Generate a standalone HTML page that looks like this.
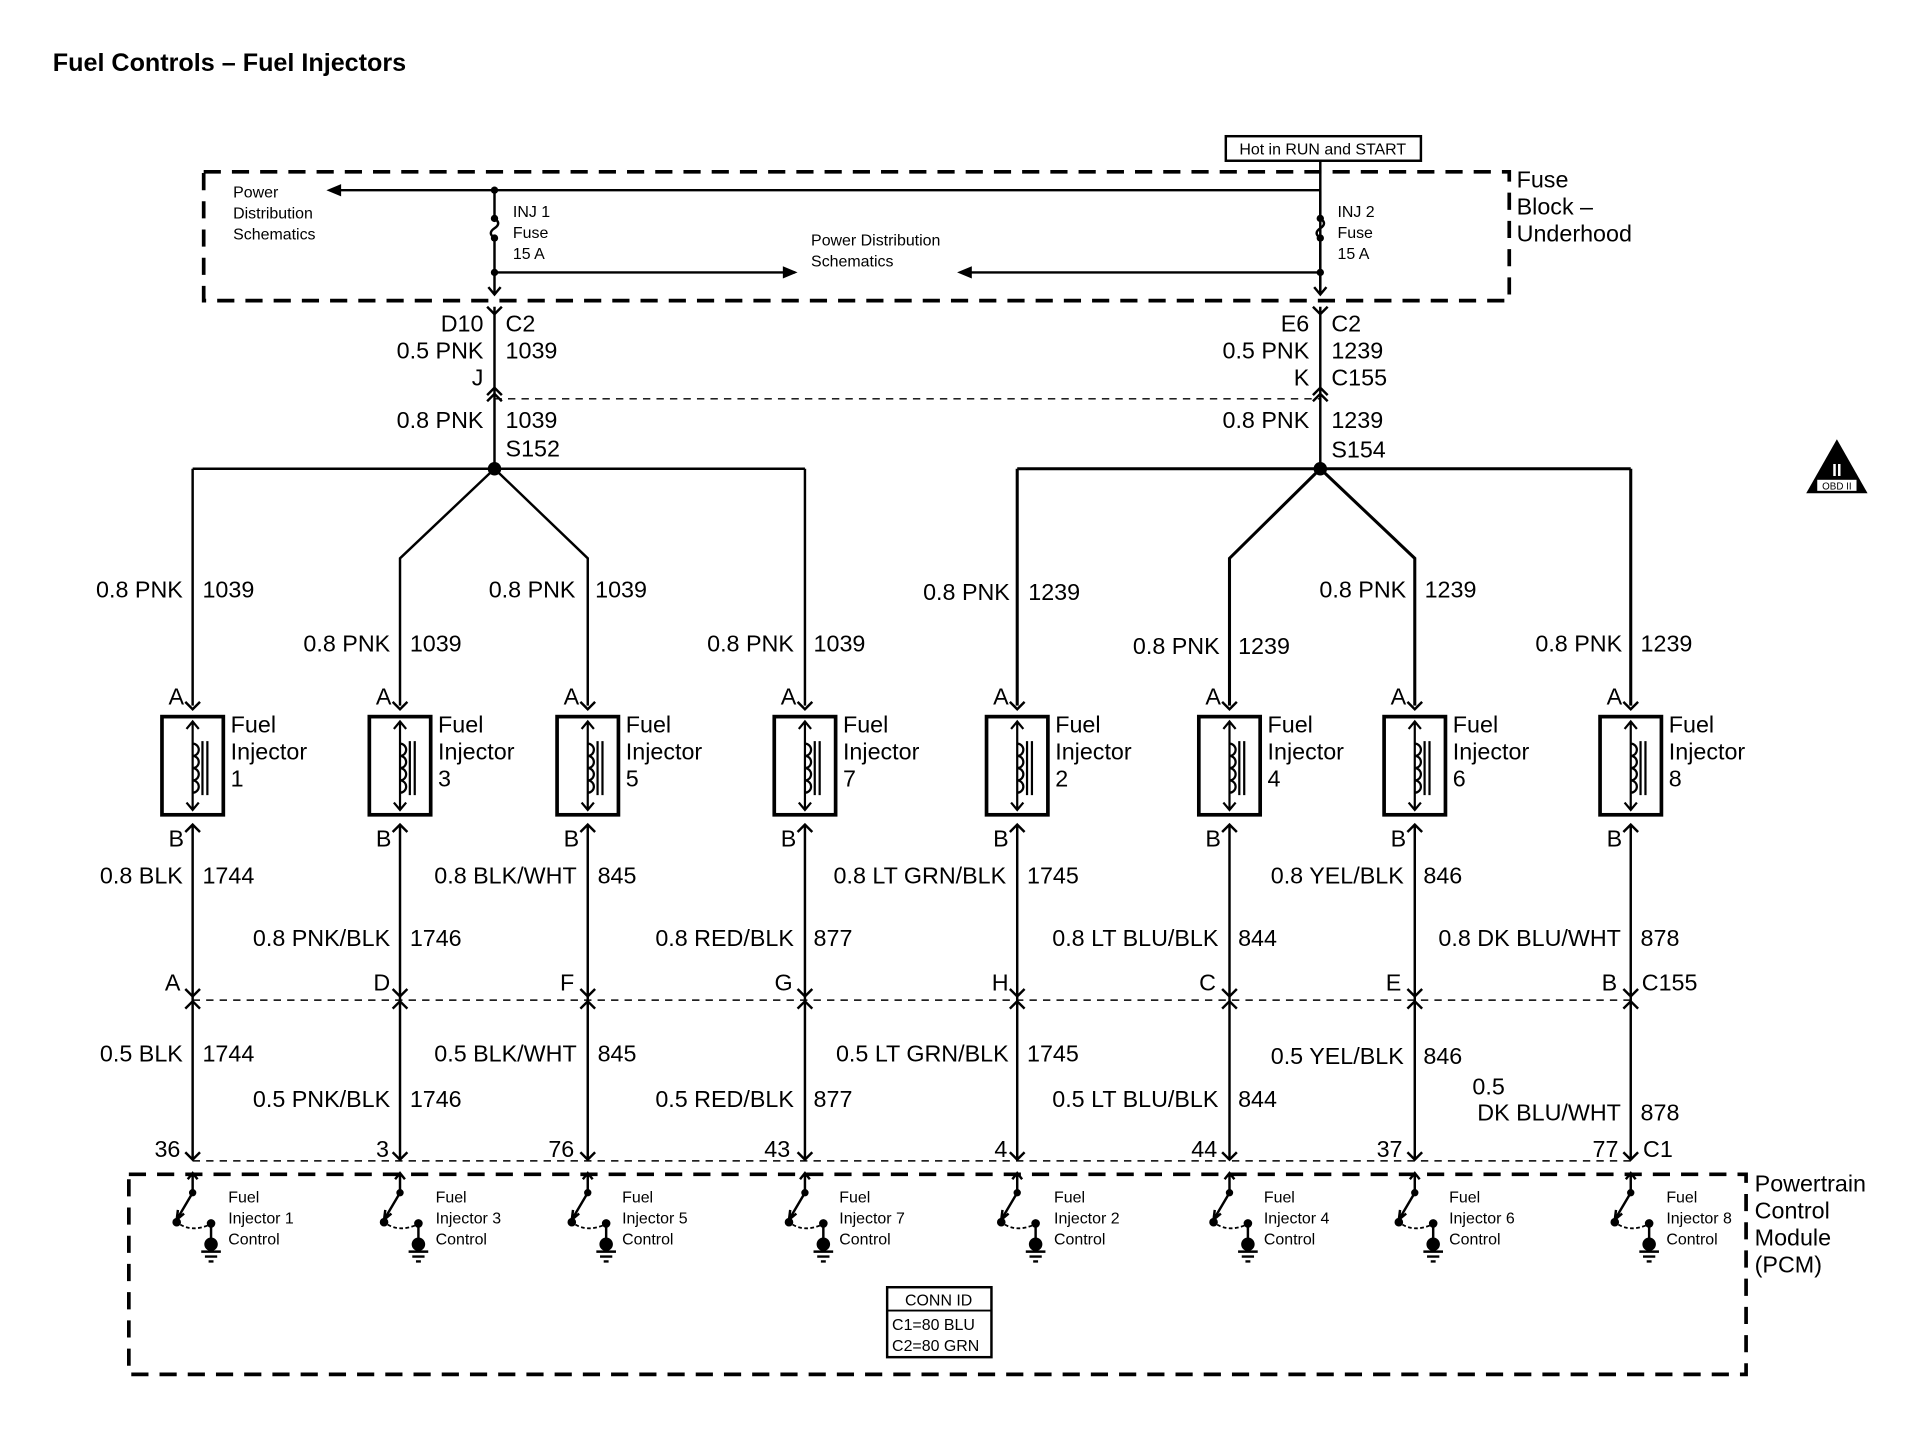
<!DOCTYPE html>
<html><head><meta charset="utf-8"><style>
html,body{margin:0;padding:0;background:#fff}
svg{display:block}
text{font-family:"Liberation Sans",sans-serif;fill:#000}
.w{font-size:19px}
.s{font-size:13px}
.r{text-anchor:end}
</style></head><body>
<svg width="1924" height="1440" viewBox="0 0 1568 1173.5" preserveAspectRatio="none" xmlns="http://www.w3.org/2000/svg">
<defs>
<g id="inj" fill="none" stroke="#000">
<rect x="-25" y="0" width="50" height="80" stroke-width="3"/>
<path d="M0 4 V76 M-5 10 L0 4 L5 10 M-5 70 L0 76 L5 70" stroke-width="1.8"/>
<path d="M0 22 a5 5 0 0 1 0 10 a5 5 0 0 1 0 10 a5 5 0 0 1 0 10 a5 5 0 0 1 0 10" stroke-width="1.8"/>
<path d="M8 20 V64 M12 20 V64" stroke-width="1.8"/>
</g>
<g id="sw" stroke="#000" fill="none">
<path d="M0 -2 V14 M-4 3 L0 -2 L4 3" stroke-width="2"/>
<circle cx="0" cy="14" r="2.5" fill="#000"/>
<path d="M0 14 L-13 36 M-12 28 L-13 36 L-7 31" stroke-width="2"/>
<circle cx="-13" cy="38" r="3" fill="#000"/>
<path d="M-10 40 Q0 46 14 40" stroke-width="1.5" stroke-dasharray="3 2"/>
<circle cx="15" cy="39" r="3" fill="#000"/>
<path d="M15 39 V56" stroke-width="2"/>
<circle cx="15" cy="56" r="5" fill="#000"/>
<path d="M7 62 H23 M10 66 H20 M13 70 H17" stroke-width="2"/>
</g>
<g id="ca" fill="none" stroke="#000" stroke-width="2"><path d="M-6 6 L0 0 L6 6"/></g>
<g id="cb" fill="none" stroke="#000" stroke-width="2"><path d="M-6 -6 L0 0 L6 -6"/></g>
</defs>

<text x="43" y="58" style="font-size:20.5px;font-weight:bold">Fuel Controls – Fuel Injectors</text>

<rect x="166" y="140" width="1064" height="105" fill="none" stroke="#000" stroke-width="3" stroke-dasharray="14 9"/>
<rect x="999" y="111" width="159" height="20" fill="none" stroke="#000" stroke-width="2"/>
<text x="1078" y="126" class="s" text-anchor="middle">Hot in RUN and START</text>
<text x="1236" y="153" class="w">Fuse</text>
<text x="1236" y="175" class="w">Block –</text>
<text x="1236" y="197" class="w">Underhood</text>
<g stroke="#000" stroke-width="2" fill="none">
<path d="M275 155 H1076 M1076 131 V240 M403 155 V178 M403 194 V240"/>
<path d="M1076 155 V178 M1076 194 V240" />
<path d="M403 178 q6 4 0 8 q-6 4 0 8 M1076 178 q6 4 0 8 q-6 4 0 8"/>
<path d="M403 222 H648 M1076 222 H784"/>
<path d="M398 234 L403 240 L408 234 M1071 234 L1076 240 L1081 234"/>
<path d="M403 250 V382 M1076 250 V382"/>
<path d="M403 325 H1076" stroke-dasharray="6 5" stroke-width="1.2"/>
<path d="M157 382 H656 M157 382 V575 M656 382 V575 M403 382 L326 455 V575 M403 382 L479 455 V575"/>
<path d="M829 382 H1329 M829 382 V575 M1329 382 V575 M1076 382 L1002 455 V575 M1076 382 L1153 455 V575" stroke-width="2.5"/>
</g>
<path d="M266 155 L278 150 L278 160 Z M650 222 L638 217 L638 227 Z M780 222 L792 217 L792 227 Z" fill="#000"/>
<g fill="#000"><circle cx="403" cy="155" r="3"/><circle cx="403" cy="178" r="3"/><circle cx="403" cy="194" r="3"/><circle cx="403" cy="222" r="3"/>
<circle cx="1076" cy="178" r="3"/><circle cx="1076" cy="194" r="3"/><circle cx="1076" cy="222" r="3"/>
<circle cx="403" cy="382" r="5.5"/><circle cx="1076" cy="382" r="5.5"/></g>
<use href="#cb" x="403" y="256"/><use href="#cb" x="1076" y="256"/>
<use href="#ca" x="403" y="316"/><use href="#ca" x="403" y="321"/>
<use href="#ca" x="1076" y="316"/><use href="#ca" x="1076" y="321"/>
<text x="190" y="161" class="s">Power</text><text x="190" y="178" class="s">Distribution</text><text x="190" y="195" class="s">Schematics</text>
<text x="418" y="177" class="s">INJ 1</text><text x="418" y="194" class="s">Fuse</text><text x="418" y="211" class="s">15 A</text>
<text x="1090" y="177" class="s">INJ 2</text><text x="1090" y="194" class="s">Fuse</text><text x="1090" y="211" class="s">15 A</text>
<text x="661" y="200" class="s">Power Distribution</text><text x="661" y="217" class="s">Schematics</text>

<g class="w">
<text x="394" y="270" class="w r">D10</text><text x="412" y="270" class="w">C2</text>
<text x="394" y="292" class="w r">0.5 PNK</text><text x="412" y="292" class="w">1039</text>
<text x="394" y="314" class="w r">J</text>
<text x="394" y="349" class="w r">0.8 PNK</text><text x="412" y="349" class="w">1039</text>
<text x="412" y="372" class="w">S152</text>
<text x="1067" y="270" class="w r">E6</text><text x="1085" y="270" class="w">C2</text>
<text x="1067" y="292" class="w r">0.5 PNK</text><text x="1085" y="292" class="w">1239</text>
<text x="1067" y="314" class="w r">K</text><text x="1085" y="314" class="w">C155</text>
<text x="1067" y="349" class="w r">0.8 PNK</text><text x="1085" y="349" class="w">1239</text>
<text x="1085" y="373" class="w">S154</text>
</g>

<path d="M1497 358 L1522 402 L1472 402 Z" fill="#000"/>
<rect x="1481" y="391" width="32" height="9" fill="#fff"/>
<text x="1497" y="399" style="font-size:8px" text-anchor="middle">OBD II</text>
<text x="1497" y="388" style="font-size:14px;font-weight:bold;fill:#fff" text-anchor="middle">II</text>

<g stroke="#000" stroke-width="2" fill="none">
<path d="M157 672 V945 M326 672 V945 M479 672 V945 M656 672 V945 M829 672 V945 M1002 672 V945 M1153 672 V945 M1329 672 V945"/>
<path d="M157 815 H1329 M157 946 H1329" stroke-dasharray="6 5" stroke-width="1.2"/>
</g>
<rect x="105" y="957" width="1318" height="163" fill="none" stroke="#000" stroke-width="3" stroke-dasharray="14 9"/>

<g>
<use href="#inj" x="157" y="584"/><use href="#inj" x="326" y="584"/><use href="#inj" x="479" y="584"/><use href="#inj" x="656" y="584"/>
<use href="#inj" x="829" y="584"/><use href="#inj" x="1002" y="584"/><use href="#inj" x="1153" y="584"/><use href="#inj" x="1329" y="584"/>
<use href="#cb" x="157" y="578"/><use href="#cb" x="326" y="578"/><use href="#cb" x="479" y="578"/><use href="#cb" x="656" y="578"/><use href="#cb" x="829" y="578"/><use href="#cb" x="1002" y="578"/><use href="#cb" x="1153" y="578"/><use href="#cb" x="1329" y="578"/>
<use href="#ca" x="157" y="672"/><use href="#ca" x="326" y="672"/><use href="#ca" x="479" y="672"/><use href="#ca" x="656" y="672"/><use href="#ca" x="829" y="672"/><use href="#ca" x="1002" y="672"/><use href="#ca" x="1153" y="672"/><use href="#ca" x="1329" y="672"/>
<use href="#cb" x="157" y="812"/><use href="#cb" x="326" y="812"/><use href="#cb" x="479" y="812"/><use href="#cb" x="656" y="812"/><use href="#cb" x="829" y="812"/><use href="#cb" x="1002" y="812"/><use href="#cb" x="1153" y="812"/><use href="#cb" x="1329" y="812"/>
<use href="#ca" x="157" y="816"/><use href="#ca" x="326" y="816"/><use href="#ca" x="479" y="816"/><use href="#ca" x="656" y="816"/><use href="#ca" x="829" y="816"/><use href="#ca" x="1002" y="816"/><use href="#ca" x="1153" y="816"/><use href="#ca" x="1329" y="816"/>
<use href="#cb" x="157" y="945"/><use href="#cb" x="326" y="945"/><use href="#cb" x="479" y="945"/><use href="#cb" x="656" y="945"/><use href="#cb" x="829" y="945"/><use href="#cb" x="1002" y="945"/><use href="#cb" x="1153" y="945"/><use href="#cb" x="1329" y="945"/>
<use href="#sw" x="157" y="958"/><use href="#sw" x="326" y="958"/><use href="#sw" x="479" y="958"/><use href="#sw" x="656" y="958"/><use href="#sw" x="829" y="958"/><use href="#sw" x="1002" y="958"/><use href="#sw" x="1153" y="958"/><use href="#sw" x="1329" y="958"/>
</g>

<g class="w">
<text x="188" y="597" class="w">Fuel</text><text x="188" y="619" class="w">Injector</text><text x="188" y="641" class="w">1</text>
<text x="357" y="597" class="w">Fuel</text><text x="357" y="619" class="w">Injector</text><text x="357" y="641" class="w">3</text>
<text x="510" y="597" class="w">Fuel</text><text x="510" y="619" class="w">Injector</text><text x="510" y="641" class="w">5</text>
<text x="687" y="597" class="w">Fuel</text><text x="687" y="619" class="w">Injector</text><text x="687" y="641" class="w">7</text>
<text x="860" y="597" class="w">Fuel</text><text x="860" y="619" class="w">Injector</text><text x="860" y="641" class="w">2</text>
<text x="1033" y="597" class="w">Fuel</text><text x="1033" y="619" class="w">Injector</text><text x="1033" y="641" class="w">4</text>
<text x="1184" y="597" class="w">Fuel</text><text x="1184" y="619" class="w">Injector</text><text x="1184" y="641" class="w">6</text>
<text x="1360" y="597" class="w">Fuel</text><text x="1360" y="619" class="w">Injector</text><text x="1360" y="641" class="w">8</text>
</g>
<g>
<text x="150" y="574" class="w r">A</text><text x="319" y="574" class="w r">A</text><text x="472" y="574" class="w r">A</text><text x="649" y="574" class="w r">A</text><text x="822" y="574" class="w r">A</text><text x="995" y="574" class="w r">A</text><text x="1146" y="574" class="w r">A</text><text x="1322" y="574" class="w r">A</text>
<text x="150" y="690" class="w r">B</text><text x="319" y="690" class="w r">B</text><text x="472" y="690" class="w r">B</text><text x="649" y="690" class="w r">B</text><text x="822" y="690" class="w r">B</text><text x="995" y="690" class="w r">B</text><text x="1146" y="690" class="w r">B</text><text x="1322" y="690" class="w r">B</text>
<text x="147" y="807" class="w r">A</text><text x="318" y="807" class="w r">D</text><text x="468" y="807" class="w r">F</text><text x="646" y="807" class="w r">G</text><text x="822" y="807" class="w r">H</text><text x="991" y="807" class="w r">C</text><text x="1142" y="807" class="w r">E</text><text x="1318" y="807" class="w r">B</text><text x="1338" y="807" class="w">C155</text>
<text x="147" y="943" class="w r">36</text><text x="317" y="943" class="w r">3</text><text x="468" y="943" class="w r">76</text><text x="644" y="943" class="w r">43</text><text x="821" y="943" class="w r">4</text><text x="992" y="943" class="w r">44</text><text x="1143" y="943" class="w r">37</text><text x="1319" y="943" class="w r">77</text><text x="1339" y="943" class="w">C1</text>
</g>
<g>
<text x="149" y="487" class="w r">0.8 PNK</text><text x="165" y="487" class="w">1039</text>
<text x="318" y="531" class="w r">0.8 PNK</text><text x="334" y="531" class="w">1039</text>
<text x="469" y="487" class="w r">0.8 PNK</text><text x="485" y="487" class="w">1039</text>
<text x="647" y="531" class="w r">0.8 PNK</text><text x="663" y="531" class="w">1039</text>
<text x="823" y="489" class="w r">0.8 PNK</text><text x="838" y="489" class="w">1239</text>
<text x="994" y="533" class="w r">0.8 PNK</text><text x="1009" y="533" class="w">1239</text>
<text x="1146" y="487" class="w r">0.8 PNK</text><text x="1161" y="487" class="w">1239</text>
<text x="1322" y="531" class="w r">0.8 PNK</text><text x="1337" y="531" class="w">1239</text>

<text x="149" y="720" class="w r">0.8 BLK</text><text x="165" y="720" class="w">1744</text>
<text x="318" y="771" class="w r">0.8 PNK/BLK</text><text x="334" y="771" class="w">1746</text>
<text x="470" y="720" class="w r">0.8 BLK/WHT</text><text x="487" y="720" class="w">845</text>
<text x="647" y="771" class="w r">0.8 RED/BLK</text><text x="663" y="771" class="w">877</text>
<text x="820" y="720" class="w r">0.8 LT GRN/BLK</text><text x="837" y="720" class="w">1745</text>
<text x="993" y="771" class="w r">0.8 LT BLU/BLK</text><text x="1009" y="771" class="w">844</text>
<text x="1144" y="720" class="w r">0.8 YEL/BLK</text><text x="1160" y="720" class="w">846</text>
<text x="1321" y="771" class="w r">0.8 DK BLU/WHT</text><text x="1337" y="771" class="w">878</text>

<text x="149" y="865" class="w r">0.5 BLK</text><text x="165" y="865" class="w">1744</text>
<text x="318" y="902" class="w r">0.5 PNK/BLK</text><text x="334" y="902" class="w">1746</text>
<text x="470" y="865" class="w r">0.5 BLK/WHT</text><text x="487" y="865" class="w">845</text>
<text x="647" y="902" class="w r">0.5 RED/BLK</text><text x="663" y="902" class="w">877</text>
<text x="822" y="865" class="w r">0.5 LT GRN/BLK</text><text x="837" y="865" class="w">1745</text>
<text x="993" y="902" class="w r">0.5 LT BLU/BLK</text><text x="1009" y="902" class="w">844</text>
<text x="1144" y="867" class="w r">0.5 YEL/BLK</text><text x="1160" y="867" class="w">846</text>
<text x="1200" y="892" class="w">0.5</text>
<text x="1321" y="913" class="w r">DK BLU/WHT</text><text x="1337" y="913" class="w">878</text>
</g>
<g class="s">
<text x="186" y="980" class="s">Fuel</text><text x="186" y="997" class="s">Injector 1</text><text x="186" y="1014" class="s">Control</text>
<text x="355" y="980" class="s">Fuel</text><text x="355" y="997" class="s">Injector 3</text><text x="355" y="1014" class="s">Control</text>
<text x="507" y="980" class="s">Fuel</text><text x="507" y="997" class="s">Injector 5</text><text x="507" y="1014" class="s">Control</text>
<text x="684" y="980" class="s">Fuel</text><text x="684" y="997" class="s">Injector 7</text><text x="684" y="1014" class="s">Control</text>
<text x="859" y="980" class="s">Fuel</text><text x="859" y="997" class="s">Injector 2</text><text x="859" y="1014" class="s">Control</text>
<text x="1030" y="980" class="s">Fuel</text><text x="1030" y="997" class="s">Injector 4</text><text x="1030" y="1014" class="s">Control</text>
<text x="1181" y="980" class="s">Fuel</text><text x="1181" y="997" class="s">Injector 6</text><text x="1181" y="1014" class="s">Control</text>
<text x="1358" y="980" class="s">Fuel</text><text x="1358" y="997" class="s">Injector 8</text><text x="1358" y="1014" class="s">Control</text>
</g>
<text x="1430" y="971" class="w">Powertrain</text><text x="1430" y="993" class="w">Control</text><text x="1430" y="1015" class="w">Module</text><text x="1430" y="1037" class="w">(PCM)</text>
<rect x="723" y="1049" width="85" height="57" fill="none" stroke="#000" stroke-width="2"/>
<path d="M723 1068 H808" stroke="#000" stroke-width="1.5"/>
<text x="765" y="1064" class="s" text-anchor="middle">CONN ID</text>
<text x="727" y="1084" class="s">C1=80 BLU</text>
<text x="727" y="1101" class="s">C2=80 GRN</text>
</svg>
</body></html>
